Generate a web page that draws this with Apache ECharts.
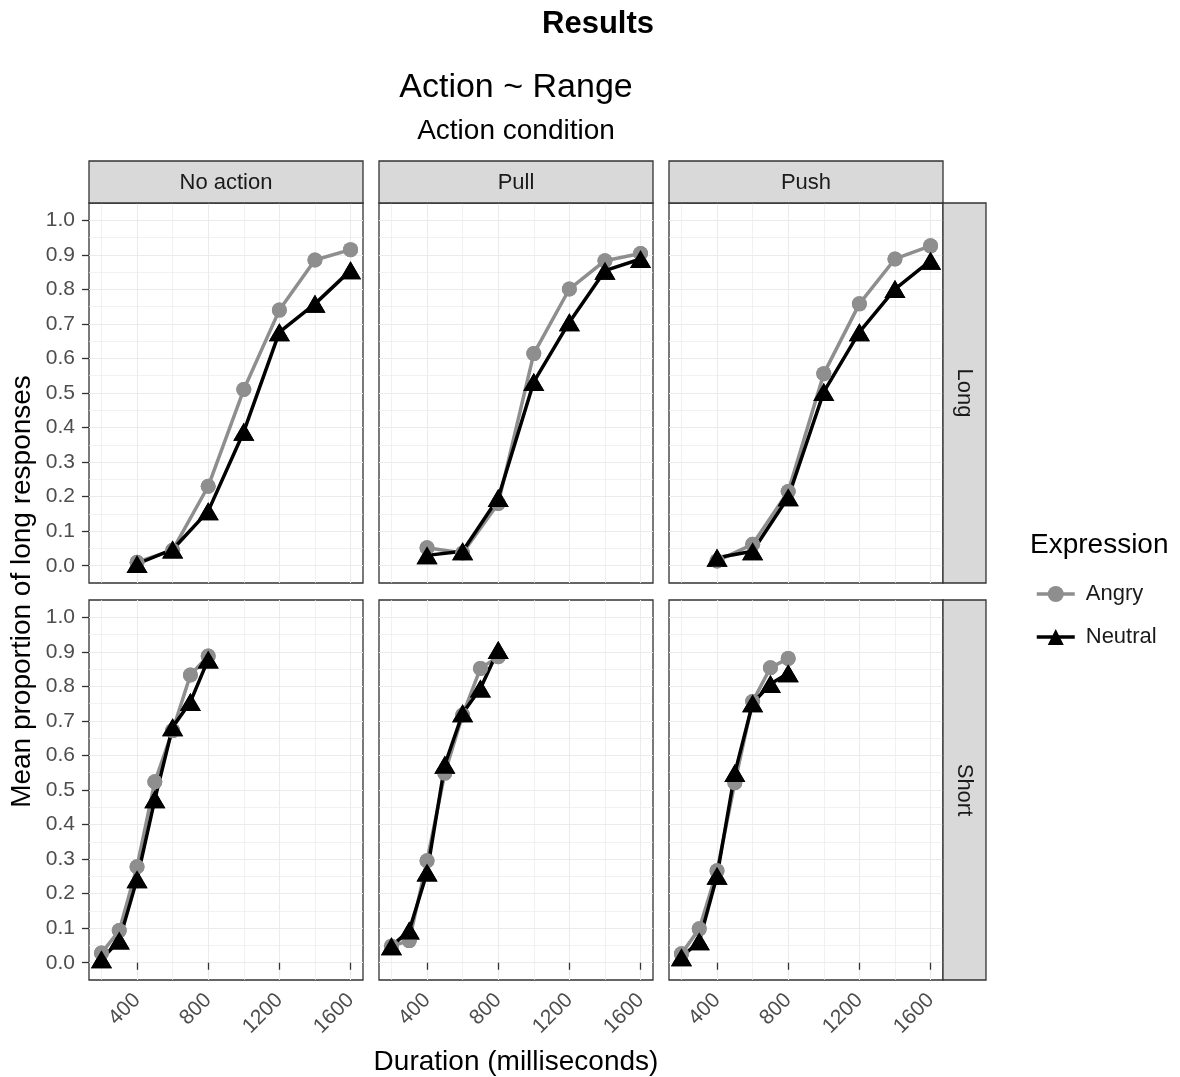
<!DOCTYPE html>
<html>
<head>
<meta charset="utf-8">
<script src="https://cdn.jsdelivr.net/npm/echarts@6/dist/echarts.min.js"></script>
<style>
html,body{margin:0;padding:0;background:#fff;}
#chart{width:1180px;height:1077px;}
</style>
</head>
<body>
<div id="chart"></div>
<script>
// ---------- data ----------
const actions = ['No action', 'Pull', 'Push'];
const ranges = ['Long', 'Short'];
const expressions = ['Angry', 'Neutral'];
const durationsLong = [400, 600, 800, 1000, 1200, 1400, 1600];
const durationsShort = [200, 300, 400, 500, 600, 700, 800];

const noActionLongAngry    = [0.010, 0.045, 0.230, 0.510, 0.740, 0.885, 0.915];
const noActionLongNeutral  = [0.005, 0.047, 0.158, 0.388, 0.676, 0.758, 0.855];
const pullLongAngry        = [0.052, 0.037, 0.180, 0.614, 0.801, 0.883, 0.904];
const pullLongNeutral      = [0.030, 0.042, 0.196, 0.532, 0.705, 0.854, 0.888];
const pushLongAngry        = [0.014, 0.062, 0.215, 0.556, 0.758, 0.888, 0.926];
const pushLongNeutral      = [0.023, 0.042, 0.198, 0.503, 0.676, 0.801, 0.883];

const noActionShortAngry   = [0.028, 0.093, 0.278, 0.524, 0.672, 0.833, 0.888];
const noActionShortNeutral = [0.010, 0.064, 0.242, 0.473, 0.682, 0.755, 0.878];
const pullShortAngry       = [0.048, 0.064, 0.295, 0.549, 0.717, 0.852, 0.886];
const pullShortNeutral     = [0.048, 0.093, 0.261, 0.573, 0.722, 0.794, 0.905];
const pushShortAngry       = [0.026, 0.098, 0.266, 0.521, 0.756, 0.854, 0.881];
const pushShortNeutral     = [0.016, 0.062, 0.252, 0.549, 0.751, 0.807, 0.838];

const xMajorTicks = [400, 800, 1200, 1600];
const xMinorTicks = [200, 600, 1000, 1400];
const yMajorTicks = [0, 0.1, 0.2, 0.3, 0.4, 0.5, 0.6, 0.7, 0.8, 0.9, 1.0];
const yMinorTicks = [0.05, 0.15, 0.25, 0.35, 0.45, 0.55, 0.65, 0.75, 0.85, 0.95];

// panel table: [row][col]
const panels = [
  [
    {durations: durationsLong, angry: noActionLongAngry, neutral: noActionLongNeutral},
    {durations: durationsLong, angry: pullLongAngry, neutral: pullLongNeutral},
    {durations: durationsLong, angry: pushLongAngry, neutral: pushLongNeutral}
  ],
  [
    {durations: durationsShort, angry: noActionShortAngry, neutral: noActionShortNeutral},
    {durations: durationsShort, angry: pullShortAngry, neutral: pullShortNeutral},
    {durations: durationsShort, angry: pushShortAngry, neutral: pushShortNeutral}
  ]
];

// ---------- layout ----------
const FONT = "'Liberation Sans', Arial, sans-serif";
const PANEL_LEFT = [89, 379, 669];
const PANEL_TOP = [203, 600];
const PANEL_W = 274;
const PANEL_H = 380;
const STRIP_H = 42;
const STRIP_W = 43;
const ANGRY_COLOR = '#8E8E8E';
const NEUTRAL_COLOR = '#000000';
const GRID_COLOR = '#EBEBEB';
const BORDER = '#333333';

const grids = [], xAxes = [], yAxes = [], series = [], graphics = [];

for (let r = 0; r < 2; r++) {
  for (let c = 0; c < 3; c++) {
    const g = r * 3 + c;
    grids.push({
      left: PANEL_LEFT[c], top: PANEL_TOP[r], width: PANEL_W, height: PANEL_H,
      show: true, borderColor: BORDER, borderWidth: 1.3, backgroundColor: '#fff'
    });
    const bottomRow = r === 1;
    const leftCol = c === 0;
    xAxes.push({
      type: 'value', gridIndex: g, min: 130, max: 1670,
      axisLine: {show: false},
      axisTick: {show: bottomRow, customValues: xMajorTicks, length: 7, lineStyle: {color: BORDER, width: 1.3}},
      axisLabel: {show: bottomRow, customValues: xMajorTicks, rotate: 45, margin: 17,
        formatter: v => String(Math.round(v)),
        fontFamily: FONT, fontSize: 21, color: '#4D4D4D'},
      splitLine: {show: true, lineStyle: {color: GRID_COLOR, width: 1.1}}
    });
    xAxes.push({
      type: 'value', gridIndex: g, min: 130, max: 1670,
      axisLine: {show: false},
      axisTick: {show: false, customValues: xMinorTicks},
      axisLabel: {show: false},
      splitLine: {show: true, lineStyle: {color: GRID_COLOR, width: 0.7}}
    });
    yAxes.push({
      type: 'value', gridIndex: g, min: -0.05, max: 1.05,
      axisLine: {show: false},
      axisTick: {show: leftCol, customValues: yMajorTicks, length: 7, lineStyle: {color: BORDER, width: 1.3}},
      axisLabel: {show: leftCol, customValues: yMajorTicks, margin: 14,
        formatter: v => Number(v).toFixed(1),
        fontFamily: FONT, fontSize: 21, color: '#4D4D4D'},
      splitLine: {show: true, lineStyle: {color: GRID_COLOR, width: 1.1}}
    });
    yAxes.push({
      type: 'value', gridIndex: g, min: -0.05, max: 1.05,
      axisLine: {show: false},
      axisTick: {show: false, customValues: yMinorTicks},
      axisLabel: {show: false},
      splitLine: {show: true, lineStyle: {color: GRID_COLOR, width: 0.7}}
    });

    const p = panels[r][c];
    const angryData = p.durations.map((d, i) => [d, p.angry[i]]);
    const neutralData = p.durations.map((d, i) => [d, p.neutral[i]]);
    const xi = g * 2, yi = g * 2;
    series.push({
      type: 'line', name: 'Angry', xAxisIndex: xi, yAxisIndex: yi, data: angryData,
      symbol: 'circle', symbolSize: 15, showSymbol: true, z: 2,
      lineStyle: {color: ANGRY_COLOR, width: 3.5}, itemStyle: {color: ANGRY_COLOR},
      animation: false, silent: true
    });
    series.push({
      type: 'line', name: 'Neutral', xAxisIndex: xi, yAxisIndex: yi, data: neutralData,
      symbol: 'triangle', symbolSize: [21, 18], showSymbol: true, z: 2,
      lineStyle: {color: NEUTRAL_COLOR, width: 3.5}, itemStyle: {color: NEUTRAL_COLOR},
      animation: false, silent: true
    });
    series.push({
      type: 'scatter', name: 'Angry', xAxisIndex: xi, yAxisIndex: yi, data: angryData,
      symbol: 'circle', symbolSize: 15, z: 3, itemStyle: {color: ANGRY_COLOR, opacity: 1},
      animation: false, silent: true
    });
    series.push({
      type: 'scatter', name: 'Neutral', xAxisIndex: xi, yAxisIndex: yi, data: neutralData,
      symbol: 'triangle', symbolSize: [21, 18], z: 4, itemStyle: {color: NEUTRAL_COLOR, opacity: 1},
      animation: false, silent: true
    });
  }
}

// strips
for (let c = 0; c < 3; c++) {
  graphics.push({
    type: 'rect', shape: {x: PANEL_LEFT[c], y: PANEL_TOP[0] - STRIP_H, width: PANEL_W, height: STRIP_H},
    style: {fill: '#D9D9D9', stroke: BORDER, lineWidth: 1.3}, z: 10
  });
  graphics.push({
    type: 'text', x: PANEL_LEFT[c] + PANEL_W / 2, y: PANEL_TOP[0] - STRIP_H / 2 + 1,
    style: {text: actions[c], font: '22px ' + FONT, fill: '#1A1A1A', textAlign: 'center', textVerticalAlign: 'middle'}, z: 11
  });
}
for (let r = 0; r < 2; r++) {
  const sx = PANEL_LEFT[2] + PANEL_W;
  graphics.push({
    type: 'rect', shape: {x: sx, y: PANEL_TOP[r], width: STRIP_W, height: PANEL_H},
    style: {fill: '#D9D9D9', stroke: BORDER, lineWidth: 1.3}, z: 10
  });
  graphics.push({
    type: 'text', x: sx + STRIP_W / 2, y: PANEL_TOP[r] + PANEL_H / 2, rotation: -Math.PI / 2,
    style: {text: ranges[r], font: '22px ' + FONT, fill: '#1A1A1A', textAlign: 'center', textVerticalAlign: 'middle'}, z: 11
  });
}
// titles
const midX = PANEL_LEFT[0] + (PANEL_LEFT[2] + PANEL_W - PANEL_LEFT[0]) / 2;
graphics.push({type: 'text', x: 598, y: 24,
  style: {text: 'Results', font: 'bold 31px ' + FONT, fill: '#000', textAlign: 'center', textVerticalAlign: 'middle'}});
graphics.push({type: 'text', x: midX, y: 88,
  style: {text: 'Action ~ Range', font: '34px ' + FONT, fill: '#000', textAlign: 'center', textVerticalAlign: 'middle'}});
graphics.push({type: 'text', x: midX, y: 131,
  style: {text: 'Action condition', font: '28px ' + FONT, fill: '#000', textAlign: 'center', textVerticalAlign: 'middle'}});
graphics.push({type: 'text', x: midX, y: 1062,
  style: {text: 'Duration (milliseconds)', font: '28px ' + FONT, fill: '#000', textAlign: 'center', textVerticalAlign: 'middle'}});
graphics.push({type: 'text', x: 22, y: (PANEL_TOP[0] + PANEL_TOP[1] + PANEL_H) / 2, rotation: Math.PI / 2,
  style: {text: 'Mean proportion of long responses', font: '28px ' + FONT, fill: '#000', textAlign: 'center', textVerticalAlign: 'middle'}});
graphics.push({type: 'text', x: 1030, y: 545,
  style: {text: 'Expression', font: '28px ' + FONT, fill: '#000', textAlign: 'left', textVerticalAlign: 'middle'}});

const chart = echarts.init(document.getElementById('chart'), null, {renderer: 'canvas'});
chart.setOption({
  animation: false,
  backgroundColor: '#ffffff',
  grid: grids,
  xAxis: xAxes,
  yAxis: yAxes,
  series: series,
  legend: {
    data: expressions,
    orient: 'vertical',
    left: 1030, top: 578,
    itemWidth: 38, itemHeight: 20, itemGap: 21,
    selectedMode: false,
    lineStyle: {width: 3.5},
    textStyle: {fontFamily: FONT, fontSize: 22, color: '#1A1A1A', padding: [0, 0, 0, 6]}
  },
  graphic: graphics
});
</script>
</body>
</html>
